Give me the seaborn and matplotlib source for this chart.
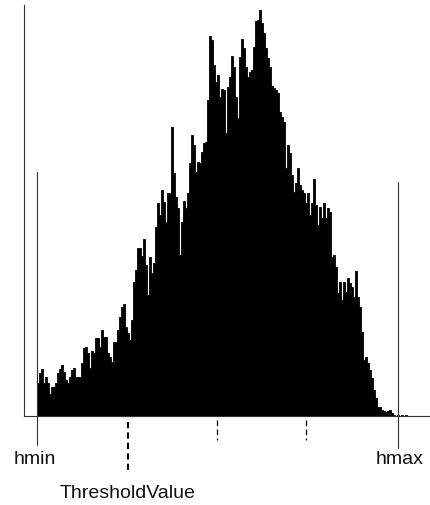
import numpy as np
import pandas as pd
import seaborn as sns
import matplotlib
matplotlib.use('Agg')
import matplotlib.pyplot as plt

# histogram counts, one value per bin
counts = [33, 43, 47, 33, 39, 33, 22, 29, 29, 33, 43, 47, 51, 44, 36, 33, 39, 46, 48, 39, 39,
          39, 53, 68, 69, 63, 48, 65, 63, 78, 78, 69, 86, 79, 79, 63, 59, 54, 74, 74, 86,
          99, 109, 112, 89, 83, 76, 96, 134, 146, 168,
          168, 160, 177, 151, 121, 159, 143, 153, 189, 213, 201, 226, 214, 194, 223, 223,
          289, 243, 219, 208, 161, 194, 215, 208, 223, 253, 281, 271, 244, 254,
          253, 264, 273, 274, 316, 380, 376, 351, 334, 341, 319, 327, 326, 283, 329, 339,
          360, 349, 319, 298, 359, 377, 368, 349, 339, 344, 346, 369, 395, 396,
          406, 393, 383, 368, 358, 349, 330, 328, 326, 323, 304, 299, 294, 248, 271, 263,
          241, 224, 233, 248, 231, 226, 223, 213, 223, 201, 213, 237, 211, 191,
          209, 198, 213, 198, 208, 204, 159, 161, 149, 123, 134, 116, 134, 124, 138, 133,
          129, 119, 145, 119, 109, 84, 56, 59, 53,
          46, 38, 26, 18, 9, 9, 6, 5, 4, 5, 6, 3, 1,
          0, 1, 0, 1, 0, 1, 0]

hmin = 0
hmax = 180.5
threshold = 45.5
other_ticks = [90, 134.5]

df = pd.DataFrame({'bin': np.arange(len(counts)) + 0.5, 'count': counts})

sns.set_style('white')
plt.rcParams['font.family'] = ['Liberation Sans', 'DejaVu Sans']

fig = plt.figure(figsize=(4.3, 5.05), dpi=100)
ax = fig.add_axes([24 / 430, 89 / 505, 406 / 430, 411 / 505])

sns.histplot(data=df, x='bin', weights='count', binwidth=1, binrange=(0, len(counts)),
             element='step', fill=True, color='black', alpha=1, linewidth=0.6, ax=ax)

ax.set_xlim(-6.5, 196.5)
ax.set_ylim(0, 411)
ax.set_xticks([])
ax.set_yticks([])
ax.set_xlabel('')
ax.set_ylabel('')
for s in ['top', 'right']:
    ax.spines[s].set_visible(False)
for s in ['left', 'bottom']:
    ax.spines[s].set_color('#333333')
    ax.spines[s].set_linewidth(0.8)

# hmin / hmax markers
ax.plot([hmin, hmin], [-29, 244], color='#333333', lw=0.8, clip_on=False)
ax.plot([hmax, hmax], [-32, 234], color='#333333', lw=0.8, clip_on=False)
# threshold and other dashed ticks
ax.plot([threshold, threshold], [-6, -56], color='black', lw=1.5,
        linestyle=(0, (3, 2)), clip_on=False)
for t in other_ticks:
    ax.plot([t, t], [-4, -24], color='black', lw=0.9,
            linestyle=(0, (4.5, 2.7)), clip_on=False)

ax.text(hmin - 1, -44, 'hmin', ha='center', va='center', fontsize=14, color='#111111')
ax.text(hmax + 1, -44, 'hmax', ha='center', va='center', fontsize=14, color='#111111')
ax.text(threshold, -78, 'ThresholdValue', ha='center', va='center', fontsize=14,
        color='#111111')

fig.savefig('out.png', dpi=100)
